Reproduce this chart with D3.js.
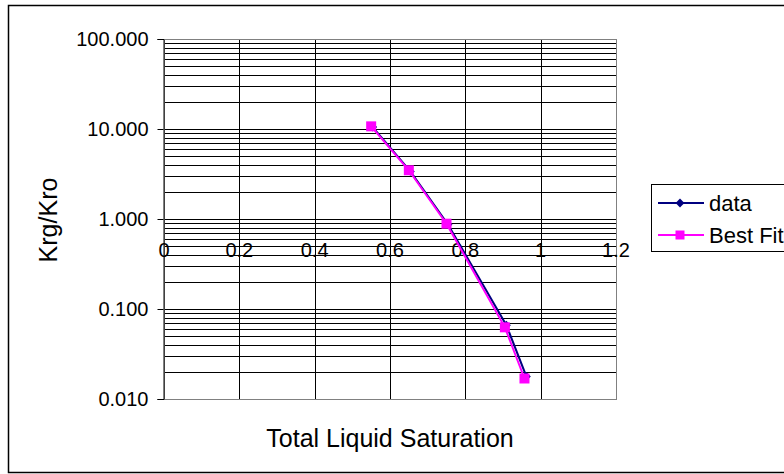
<!DOCTYPE html>
<html>
<head>
<meta charset="utf-8">
<script src="https://cdn.jsdelivr.net/npm/d3@7"></script>
<style>
  body { margin: 0; background: #fff; }
  text { font-family: Arial, "Liberation Sans", sans-serif; fill: #000; }
</style>
</head>
<body>
<div id="chart"></div>
<script>
// values
const xTicks = [0, 0.2, 0.4, 0.6, 0.8, 1, 1.2];
const yTicks = [0.01, 0.1, 1, 10, 100];
const dataSat = [0.554, 0.654, 0.754, 0.909, 0.962];
const dataRatio = [10.5, 3.38, 0.87, 0.066, 0.0178];
const fitSat = [0.55, 0.65, 0.75, 0.905, 0.957];
const fitRatio = [10.7, 3.48, 0.887, 0.0626, 0.0169];
const seriesNames = ["data", "Best Fit"];

const SIZE = { width: 784, height: 474 };
const PLOT = { left: 164, right: 616, top: 39, bottom: 399 };

const svg = d3.select("div#chart").append("svg")
    .attr("width", SIZE.width)
    .attr("height", SIZE.height);

// chart frame
svg.append("rect")
    .attr("x", 8.5).attr("y", 5.5)
    .attr("width", 790).attr("height", 467)
    .attr("fill", "#fff").attr("stroke", "#000").attr("stroke-width", 1.5);

const x = d3.scaleLinear().domain([0, 1.2]).range([PLOT.left, PLOT.right]);
const y = d3.scaleLog().domain([0.01, 100]).range([PLOT.bottom, PLOT.top]);

// horizontal grid (major + minor)
svg.append("g")
    .selectAll("line")
    .data(y.ticks())
    .join("line")
    .attr("x1", PLOT.left).attr("x2", PLOT.right)
    .attr("y1", d => Math.round(y(d)) + 0.5).attr("y2", d => Math.round(y(d)) + 0.5)
    .attr("stroke", "#000").attr("stroke-width", 1);

// vertical grid
svg.append("g")
    .selectAll("line")
    .data(xTicks)
    .join("line")
    .attr("x1", d => Math.round(x(d)) + 0.5).attr("x2", d => Math.round(x(d)) + 0.5)
    .attr("y1", PLOT.top).attr("y2", PLOT.bottom)
    .attr("stroke", "#000").attr("stroke-width", 1);

// plot border
svg.append("rect")
    .attr("x", PLOT.left + 0.5).attr("y", PLOT.top + 0.5)
    .attr("width", PLOT.right - PLOT.left).attr("height", PLOT.bottom - PLOT.top)
    .attr("fill", "none").attr("stroke", "#808080");

// y axis
const yAxis = svg.append("g")
    .attr("transform", `translate(${PLOT.left - 0.5},0)`)
    .call(d3.axisLeft(y).tickValues(yTicks).tickFormat(d3.format(".3f")).tickSize(6).tickPadding(9));
yAxis.select(".domain").attr("stroke", "#000");
yAxis.selectAll("text").style("font-size", "20px").attr("font-family", "Arial, 'Liberation Sans', sans-serif");

// x labels sit below the axis crossing at 1
svg.append("g")
    .selectAll("text")
    .data(xTicks)
    .join("text")
    .attr("x", d => x(d))
    .attr("y", 257)
    .attr("text-anchor", "middle")
    .style("font-size", "20px")
    .text(d => d3.format("")(d));

// series
const line = d3.line().x(d => x(d[0])).y(d => y(d[1]));
const dataPts = dataSat.map((s, i) => [s, dataRatio[i]]);
const fitPts = fitSat.map((s, i) => [s, fitRatio[i]]);

svg.append("path").datum(dataPts)
    .attr("d", line).attr("fill", "none").attr("stroke", "#000080").attr("stroke-width", 2);
svg.append("g").selectAll("path").data(dataPts).join("path")
    .attr("transform", d => `translate(${x(d[0])},${y(d[1])})`)
    .attr("d", d3.symbol(d3.symbolDiamond2, 50))
    .attr("fill", "#000080");

svg.append("path").datum(fitPts)
    .attr("d", line).attr("fill", "none").attr("stroke", "#ff00ff").attr("stroke-width", 2);
svg.append("g").selectAll("rect").data(fitPts).join("rect")
    .attr("x", d => x(d[0]) - 5).attr("y", d => y(d[1]) - 5)
    .attr("width", 10).attr("height", 10)
    .attr("fill", "#ff00ff");

// axis titles
svg.append("text")
    .attr("x", (PLOT.left + PLOT.right) / 2).attr("y", 447)
    .attr("text-anchor", "middle")
    .style("font-size", "25px")
    .text("Total Liquid Saturation");
svg.append("text")
    .attr("transform", "translate(57,220) rotate(-90)")
    .attr("text-anchor", "middle")
    .style("font-size", "25px")
    .text("Krg/Kro");

// legend
const legend = svg.append("g");
legend.append("rect")
    .attr("x", 651.5).attr("y", 184.5).attr("width", 150).attr("height", 67)
    .attr("fill", "#fff").attr("stroke", "#000");
const legendColors = ["#000080", "#ff00ff"];
const legendRows = [203, 235];
seriesNames.forEach((name, i) => {
  const ly = legendRows[i];
  legend.append("line")
      .attr("x1", 658).attr("x2", 704).attr("y1", ly).attr("y2", ly)
      .attr("stroke", legendColors[i]).attr("stroke-width", 2);
  if (i === 0) {
    legend.append("path")
        .attr("transform", `translate(680,${ly})`)
        .attr("d", d3.symbol(d3.symbolDiamond2, 50))
        .attr("fill", legendColors[i]);
  } else {
    legend.append("rect")
        .attr("x", 675.5).attr("y", ly - 4.5).attr("width", 9).attr("height", 9)
        .attr("fill", legendColors[i]);
  }
  legend.append("text")
      .attr("x", 709).attr("y", ly + 8)
      .style("font-size", "22px")
      .text(name);
});
</script>
</body>
</html>
